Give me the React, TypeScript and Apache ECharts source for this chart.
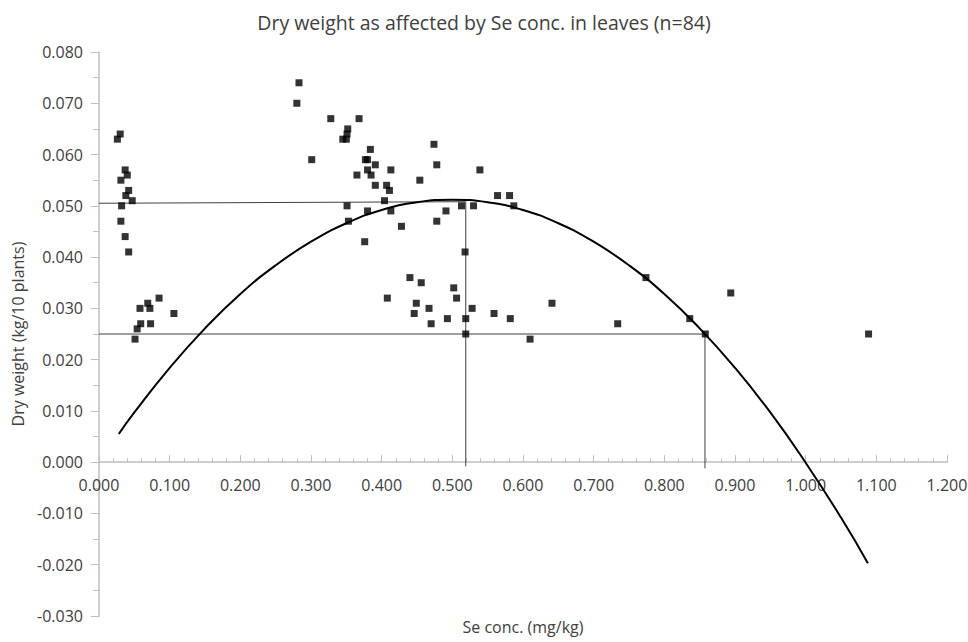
import React, { useEffect, useRef } from "react";
import * as echarts from "echarts";

const seConc: number[] = [
  0.026, 0.030, 0.037, 0.040, 0.031, 0.042, 0.038, 0.047, 0.032, 0.031, 0.037, 0.042,
  0.085, 0.069, 0.058, 0.072, 0.106, 0.059, 0.073, 0.054, 0.051,
  0.283, 0.280, 0.328, 0.368, 0.352, 0.351, 0.350, 0.345, 0.301, 0.384, 0.377, 0.380,
  0.391, 0.474, 0.478, 0.380, 0.413, 0.385, 0.365, 0.454, 0.391, 0.407, 0.411, 0.404,
  0.351, 0.491, 0.380, 0.413, 0.353, 0.478, 0.428, 0.376,
  0.513, 0.530, 0.587, 0.518, 0.440, 0.456, 0.502, 0.408, 0.506, 0.449, 0.446, 0.467,
  0.528, 0.559, 0.582, 0.493, 0.519, 0.470, 0.519, 0.610, 0.539, 0.564, 0.581,
  0.641, 0.774, 0.734, 0.894, 0.836, 0.858, 1.089,
];
const dryWeight: number[] = [
  0.063, 0.064, 0.057, 0.056, 0.055, 0.053, 0.052, 0.051, 0.050, 0.047, 0.044, 0.041,
  0.032, 0.031, 0.030, 0.030, 0.029, 0.027, 0.027, 0.026, 0.024,
  0.074, 0.070, 0.067, 0.067, 0.065, 0.064, 0.063, 0.063, 0.059, 0.061, 0.059, 0.059,
  0.058, 0.062, 0.058, 0.057, 0.057, 0.056, 0.056, 0.055, 0.054, 0.054, 0.053, 0.051,
  0.050, 0.049, 0.049, 0.049, 0.047, 0.047, 0.046, 0.043,
  0.050, 0.050, 0.050, 0.041, 0.036, 0.035, 0.034, 0.032, 0.032, 0.031, 0.029, 0.030,
  0.030, 0.029, 0.028, 0.028, 0.028, 0.027, 0.025, 0.024, 0.057, 0.052, 0.052,
  0.031, 0.036, 0.027, 0.033, 0.028, 0.025, 0.025,
];

// Polynomial trend line
const trendX: number[] = [
  0.028, 0.05, 0.1, 0.15, 0.2, 0.25, 0.3, 0.35, 0.4, 0.45, 0.5, 0.55,
  0.6, 0.65, 0.7, 0.75, 0.8, 0.85, 0.9, 0.95, 1.0, 1.05, 1.088,
];
const trendY: number[] = [
  0.0055, 0.0097, 0.0184, 0.0261, 0.0328, 0.0384, 0.043, 0.0466, 0.0492, 0.0507, 0.0512, 0.0507,
  0.0492, 0.0466, 0.043, 0.0384, 0.0328, 0.0261, 0.0184, 0.0097, -0.0001, -0.0108, -0.0197,
];

// Reference (drop) lines
const optimumX: number[] = [0, 0.519, 0.519];
const optimumY: number[] = [0.0505, 0.0508, -0.0008];
const halfX: number[] = [0, 0.8575, 0.8575];
const halfY: number[] = [0.025, 0.025, -0.0012];

// Axis ticks
const xMin = 0, xMax = 1.2, xStep = 0.1;
const yMin = -0.03, yMax = 0.08, yStep = 0.01;

const title = "Dry weight as affected by Se conc. in leaves (n=84)";
const xName = "Se conc. (mg/kg)";
const yName = "Dry weight (kg/10 plants)";

const FONT = "'Open Sans', 'DejaVu Sans', sans-serif";
const TEXT = "#404040";
const AXIS = "#bfbfbf";

const GRID_TOP = 52;
const GRID_BOTTOM = 26;
const CHART_H = 642;

export default function App() {
  const ref = useRef<HTMLDivElement>(null);
  useEffect(() => {
    if (!ref.current) return;
    const chart = echarts.init(ref.current, null, { renderer: "svg" });
    const zip = (xs: number[], ys: number[]) => xs.map((x, i) => [x, ys[i]]);
    // place the x axis (line, ticks, labels) on y = 0
    const plotH = CHART_H - GRID_TOP - GRID_BOTTOM;
    const zeroFromBottom = plotH * (0 - yMin) / (yMax - yMin);
    chart.setOption({
      animation: false,
      backgroundColor: "#ffffff",
      title: {
        text: title,
        left: "center",
        top: 7,
        textStyle: { fontFamily: FONT, fontSize: 19.5, fontWeight: "normal", color: TEXT },
      },
      grid: { left: 99, right: 21, top: GRID_TOP, bottom: GRID_BOTTOM, containLabel: false, outerBoundsMode: "none" },
      xAxis: {
        type: "value",
        min: xMin,
        max: xMax,
        interval: xStep,
        offset: -zeroFromBottom,
        name: xName,
        nameLocation: "middle",
        nameGap: 157,
        nameTextStyle: { fontFamily: FONT, fontSize: 16, color: TEXT },
        axisLine: { show: true, onZero: false, lineStyle: { color: AXIS, width: 1.5 } },
        axisTick: { show: true, inside: true, length: 7, lineStyle: { color: AXIS } },
        minorTick: { show: true, splitNumber: 5, length: 4, lineStyle: { color: AXIS } },
        splitLine: { show: false },
        axisLabel: {
          margin: 15,
          fontFamily: FONT,
          fontSize: 16,
          color: TEXT,
          formatter: (v: number) => v.toFixed(3),
        },
      },
      yAxis: {
        type: "value",
        min: yMin,
        max: yMax,
        interval: yStep,
        name: yName,
        nameLocation: "middle",
        nameGap: 72,
        nameTextStyle: { fontFamily: FONT, fontSize: 16, color: TEXT },
        axisLine: { show: true, lineStyle: { color: AXIS, width: 1.5 } },
        axisTick: { show: true, inside: false, length: 8, lineStyle: { color: AXIS } },
        minorTick: { show: true, splitNumber: 2, length: 6, lineStyle: { color: AXIS } },
        splitLine: { show: false },
        axisLabel: {
          margin: 16,
          fontFamily: FONT,
          fontSize: 16,
          color: TEXT,
          formatter: (v: number) => v.toFixed(3),
        },
      },
      series: [
        {
          type: "line",
          data: zip(optimumX, optimumY),
          symbol: "none",
          lineStyle: { color: "#404040", width: 1 },
          z: 2,
        },
        {
          type: "line",
          data: zip(halfX, halfY),
          symbol: "none",
          lineStyle: { color: "#404040", width: 1 },
          z: 2,
        },
        {
          type: "line",
          data: zip(trendX, trendY),
          symbol: "none",
          smooth: true,
          lineStyle: { color: "#000000", width: 2 },
          z: 3,
        },
        {
          type: "scatter",
          data: zip(seConc, dryWeight),
          symbol: "rect",
          symbolSize: 7,
          itemStyle: { color: "#000000" },
          z: 4,
        },
      ],
    });
    return () => chart.dispose();
  }, []);
  return (
    <div
      ref={ref}
      style={{ position: "fixed", left: 0, top: 0, width: 968, height: 642, background: "#fff" }}
    />
  );
}
